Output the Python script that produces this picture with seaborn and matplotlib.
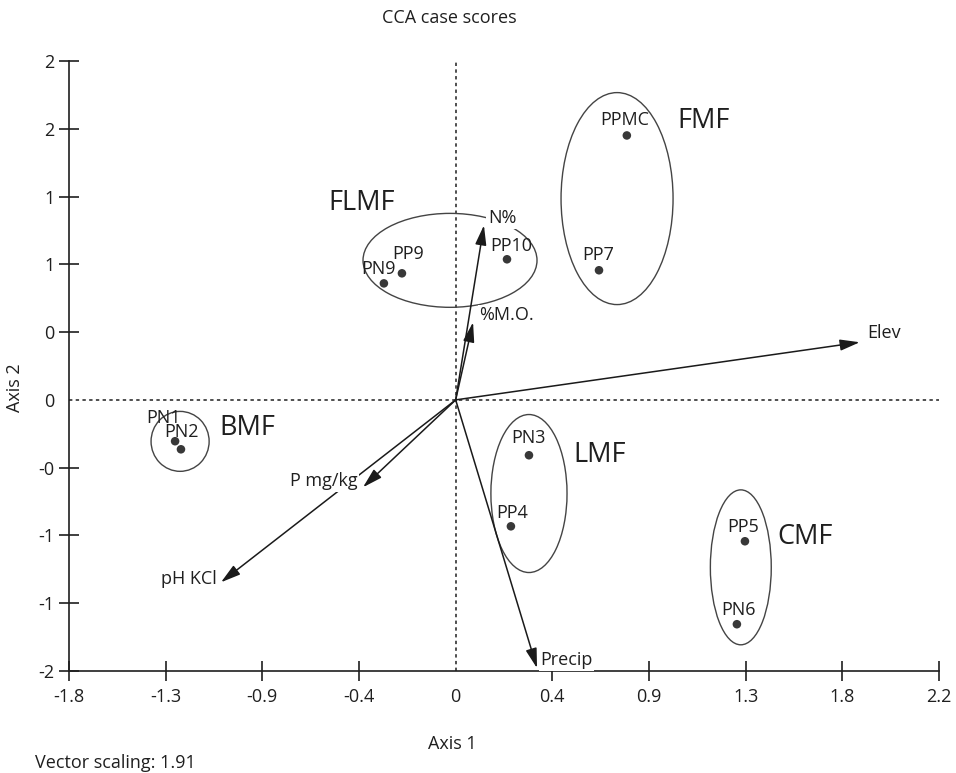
import numpy as np
import pandas as pd
import matplotlib
matplotlib.use("Agg")
import matplotlib.pyplot as plt
import seaborn as sns
from matplotlib.patches import Ellipse

# ---------------- data ----------------
site_names = ["PN1", "PN2", "PN9", "PP9", "PP10", "PPMC", "PP7", "PN3", "PP4", "PP5", "PN6"]
axis1_scores = [-1.290, -1.263, -0.330, -0.247, 0.236, 0.787, 0.659, 0.337, 0.254, 1.330, 1.293]
axis2_scores = [-0.271, -0.324, 0.764, 0.830, 0.922, 1.734, 0.850, -0.363, -0.829, -0.927, -1.471]

env_vars = ["N%", "%M.O.", "Elev", "Precip", "P mg/kg", "pH KCl"]
env_axis1 = [0.130, 0.080, 1.858, 0.374, -0.426, -1.079]
env_axis2 = [1.145, 0.509, 0.378, -1.759, -0.573, -1.196]

groups = ["BMF", "FLMF", "FMF", "LMF", "CMF"]
group_center_x = [-1.267, -0.026, 0.742, 0.337, 1.311]
group_center_y = [-0.272, 0.915, 1.320, -0.614, -1.098]
group_width = [0.267, 0.800, 0.515, 0.350, 0.280]
group_height = [0.393, 0.616, 1.390, 1.036, 1.016]
group_label_x = [-0.959, -0.431, 1.141, 0.663, 1.605]
group_label_y = [-0.186, 1.289, 1.832, -0.363, -0.901]

tick_values = [-16 / 9, -12 / 9, -8 / 9, -4 / 9, 0, 4 / 9, 8 / 9, 12 / 9, 16 / 9, 20 / 9]
x_tick_labels = ["-1.8", "-1.3", "-0.9", "-0.4", "0", "0.4", "0.9", "1.3", "1.8", "2.2"]
y_tick_labels = ["-2", "-1", "-1", "-0", "0", "0", "1", "1", "2", "2"]

title_text = "CCA case scores"
x_label = "Axis 1"
y_label = "Axis 2"
footnote = "Vector scaling: 1.91"

# ---------------- styling / layout ----------------
sns.set_theme(style="white")
plt.rcParams["font.family"] = ["Open Sans", "DejaVu Sans"]
INK = "#1f1f1f"
FS = 13

site_offsets = {  # label offsets in pixels (dx, dy)
    "PN1": (-12, 23), "PN2": (1, 17), "PN9": (-5, 14), "PP9": (6, 19),
    "PP10": (4, 13), "PPMC": (-2, 15), "PP7": (-1, 15), "PN3": (0, 17),
    "PP4": (1, 13), "PP5": (-2, 14), "PN6": (2, 14),
}
env_label_style = {  # (dx, dy, ha)
    "N%": (4, 7, "left"), "%M.O.": (6, 7, "left"), "Elev": (7, 9, "left"),
    "Precip": (3, 8, "left"), "P mg/kg": (-5, 6, "right"), "pH KCl": (-4, 3, "right"),
}

W, H = 956, 773
fig = plt.figure(figsize=(W / 100, H / 100), dpi=100)
ax = fig.add_axes([69 / W, 1 - 671 / H, (939 - 69) / W, (671 - 61) / H])

lo, hi = tick_values[0], tick_values[-1]
ax.set_xlim(lo, hi)
ax.set_ylim(lo, hi)

# reference dashed lines
ax.axhline(0, color=INK, lw=1.1, ls=(0, (2.2, 2.2)), zorder=1)
ax.axvline(0, color=INK, lw=1.1, ls=(0, (2.2, 2.2)), zorder=1)

# group ellipses
for cx, cy, w, h in zip(group_center_x, group_center_y, group_width, group_height):
    ax.add_patch(Ellipse((cx, cy), w, h, fill=False, ec="#444444", lw=1.0, zorder=1.5))

for g, gx, gy in zip(groups, group_label_x, group_label_y):
    ax.text(gx, gy, g, fontsize=19.5, color=INK, ha="center", va="center", zorder=4)

# site points
sites = pd.DataFrame({"site": site_names, "Axis 1": axis1_scores, "Axis 2": axis2_scores})
sns.scatterplot(data=sites, x="Axis 1", y="Axis 2", ax=ax, color="#383838",
                s=38, edgecolor="none", zorder=3, legend=False)
for name, sx, sy in zip(site_names, axis1_scores, axis2_scores):
    dx, dy = site_offsets.get(name, (0, 15))
    ax.annotate(name, (sx, sy), xytext=(dx, dy), textcoords="offset pixels",
                ha="center", va="center", fontsize=FS, color=INK, zorder=4)

# environmental vectors
for name, ex, ey in zip(env_vars, env_axis1, env_axis2):
    ax.annotate("", xy=(ex, ey), xytext=(0, 0),
                arrowprops=dict(arrowstyle="-|>,head_length=0.6,head_width=0.17",
                                mutation_scale=20, color="#1a1a1a", lw=1.1,
                                shrinkA=0, shrinkB=0), zorder=2)
for name, ex, ey in zip(env_vars, env_axis1, env_axis2):
    dx, dy, ha = env_label_style[name]
    ax.annotate(name, (ex, ey), xytext=(dx, dy), textcoords="offset pixels",
                ha=ha, va="center", fontsize=FS, color=INK, zorder=5,
                annotation_clip=False,
                bbox=dict(boxstyle="square,pad=0.08", fc="white", ec="none"))

# axes & ticks
sns.despine(ax=ax)
for side in ["left", "bottom"]:
    ax.spines[side].set_color(INK)
    ax.spines[side].set_linewidth(1.2)
ax.set_xticks(tick_values)
ax.set_xticklabels(x_tick_labels)
ax.set_yticks(tick_values)
ax.set_yticklabels(y_tick_labels)
ax.tick_params(axis="both", direction="inout", length=15, width=1.2, color=INK,
               labelsize=FS, labelcolor=INK, left=True, bottom=True)
ax.tick_params(axis="x", pad=5)
ax.tick_params(axis="y", pad=3)
ax.xaxis.get_major_ticks()[4].tick1line.set_visible(False)
ax.yaxis.get_major_ticks()[4].tick1line.set_visible(False)

ax.set_xlabel("")
ax.set_ylabel("")
fig.text(452 / W, 1 - 744 / H, x_label, ha="center", va="center", fontsize=FS, color=INK)
fig.text(15 / W, 1 - 388 / H, y_label, ha="center", va="center", rotation=90,
         fontsize=FS, color=INK)
fig.text(449 / W, 1 - 18 / H, title_text, ha="center", va="center", fontsize=FS, color=INK)
fig.text(35 / W, 1 - 763 / H, footnote, ha="left", va="center", fontsize=FS, color=INK)

fig.savefig("out.png", dpi=100, facecolor="white")
